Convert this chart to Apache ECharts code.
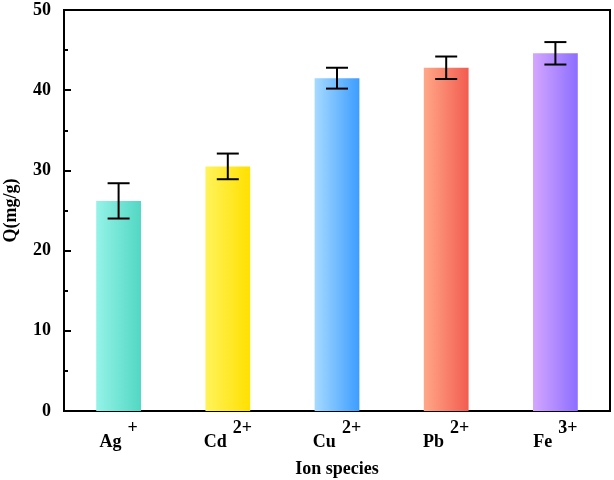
<!DOCTYPE html>
<html><head><meta charset="utf-8">
<script src="https://cdn.jsdelivr.net/npm/echarts@6/dist/echarts.min.js"></script>
<style>html,body{margin:0;padding:0;background:#fff}#c{width:614px;height:480px}</style>
</head><body><div id="c"></div>
<script>
var ions = ['Ag', 'Cd', 'Cu', 'Pb', 'Fe'];
var charges = ['+', '2+', '2+', '2+', '3+'];
var values = [26.2, 30.5, 41.5, 42.8, 44.6];
var errors = [2.2, 1.6, 1.3, 1.4, 1.4];
var colorLight = ['#95f3e8', '#fff35a', '#a6daff', '#ffa888', '#d4a6ff'];
var colorDark = ['#52d7c3', '#ffe000', '#3c9dff', '#f25c50', '#8c6eff'];
var yTicks = [0, 10, 20, 30, 40, 50];

var font = '"Liberation Serif","Times New Roman",serif';
var chart = echarts.init(document.getElementById('c'));
var cats = ions.map(function(s, i){ return s + '|' + charges[i]; });
chart.setOption({
  animation: false,
  grid: {left: 64, right: 4, top: 10, bottom: 69, outerBoundsMode: 'none', containLabel: false,
         show: true, borderColor: '#000', borderWidth: 2, backgroundColor: 'transparent'},
  xAxis: {
    type: 'category', data: cats,
    axisLine: {lineStyle: {color: '#000', width: 2}},
    axisTick: {show: false},
    axisLabel: {
      margin: 8,
      formatter: function(v){ var p = v.split('|'); return '{m|' + p[0] + '}{s|' + p[1] + '}'; },
      rich: {
        m: {fontFamily: font, fontWeight: 'bold', fontSize: 18, color: '#000', padding: [14, 6, 0, 0]},
        s: {fontFamily: font, fontWeight: 'bold', fontSize: 18, color: '#000', padding: [0, 0, 13, 0], verticalAlign: 'top'}
      }
    },
    name: 'Ion species', nameLocation: 'middle', nameGap: 49,
    nameTextStyle: {fontFamily: font, fontWeight: 'bold', fontSize: 18, color: '#000'}
  },
  yAxis: {
    type: 'value', min: 0, max: yTicks[yTicks.length-1], interval: 10,
    axisLine: {show: true, lineStyle: {color: '#000', width: 2}},
    axisTick: {show: true, inside: true, length: 7, lineStyle: {color: '#000', width: 2}},
    minorTick: {show: true, splitNumber: 2, length: 4, lineStyle: {color: '#000', width: 2}},
    splitLine: {show: false},
    axisLabel: {fontFamily: font, fontWeight: 'bold', fontSize: 18, color: '#000', margin: 13},
    name: 'Q(mg/g)', nameLocation: 'middle', nameGap: 44, nameRotate: 90,
    nameTextStyle: {fontFamily: font, fontWeight: 'bold', fontSize: 18, color: '#000'}
  },
  series: [{
    type: 'bar', barWidth: '41%',
    data: values.map(function(v, i){
      return {value: v, itemStyle: {color: new echarts.graphic.LinearGradient(0, 0, 1, 0, [
        {offset: 0, color: colorLight[i]}, {offset: 1, color: colorDark[i]}])}};
    })
  }, {
    type: 'custom', z: 10,
    data: values.map(function(v, i){ return [i, v - errors[i], v + errors[i]]; }),
    renderItem: function(params, api){
      var lo = api.coord([api.value(0), api.value(1)]);
      var hi = api.coord([api.value(0), api.value(2)]);
      var hw = 11;
      var st = {stroke: '#000', lineWidth: 2};
      return {type: 'group', children: [
        {type: 'line', shape: {x1: lo[0], y1: lo[1], x2: hi[0], y2: hi[1]}, style: st},
        {type: 'line', shape: {x1: lo[0]-hw, y1: lo[1], x2: lo[0]+hw, y2: lo[1]}, style: st},
        {type: 'line', shape: {x1: hi[0]-hw, y1: hi[1], x2: hi[0]+hw, y2: hi[1]}, style: st}
      ]};
    }
  }]
});
</script></body></html>
